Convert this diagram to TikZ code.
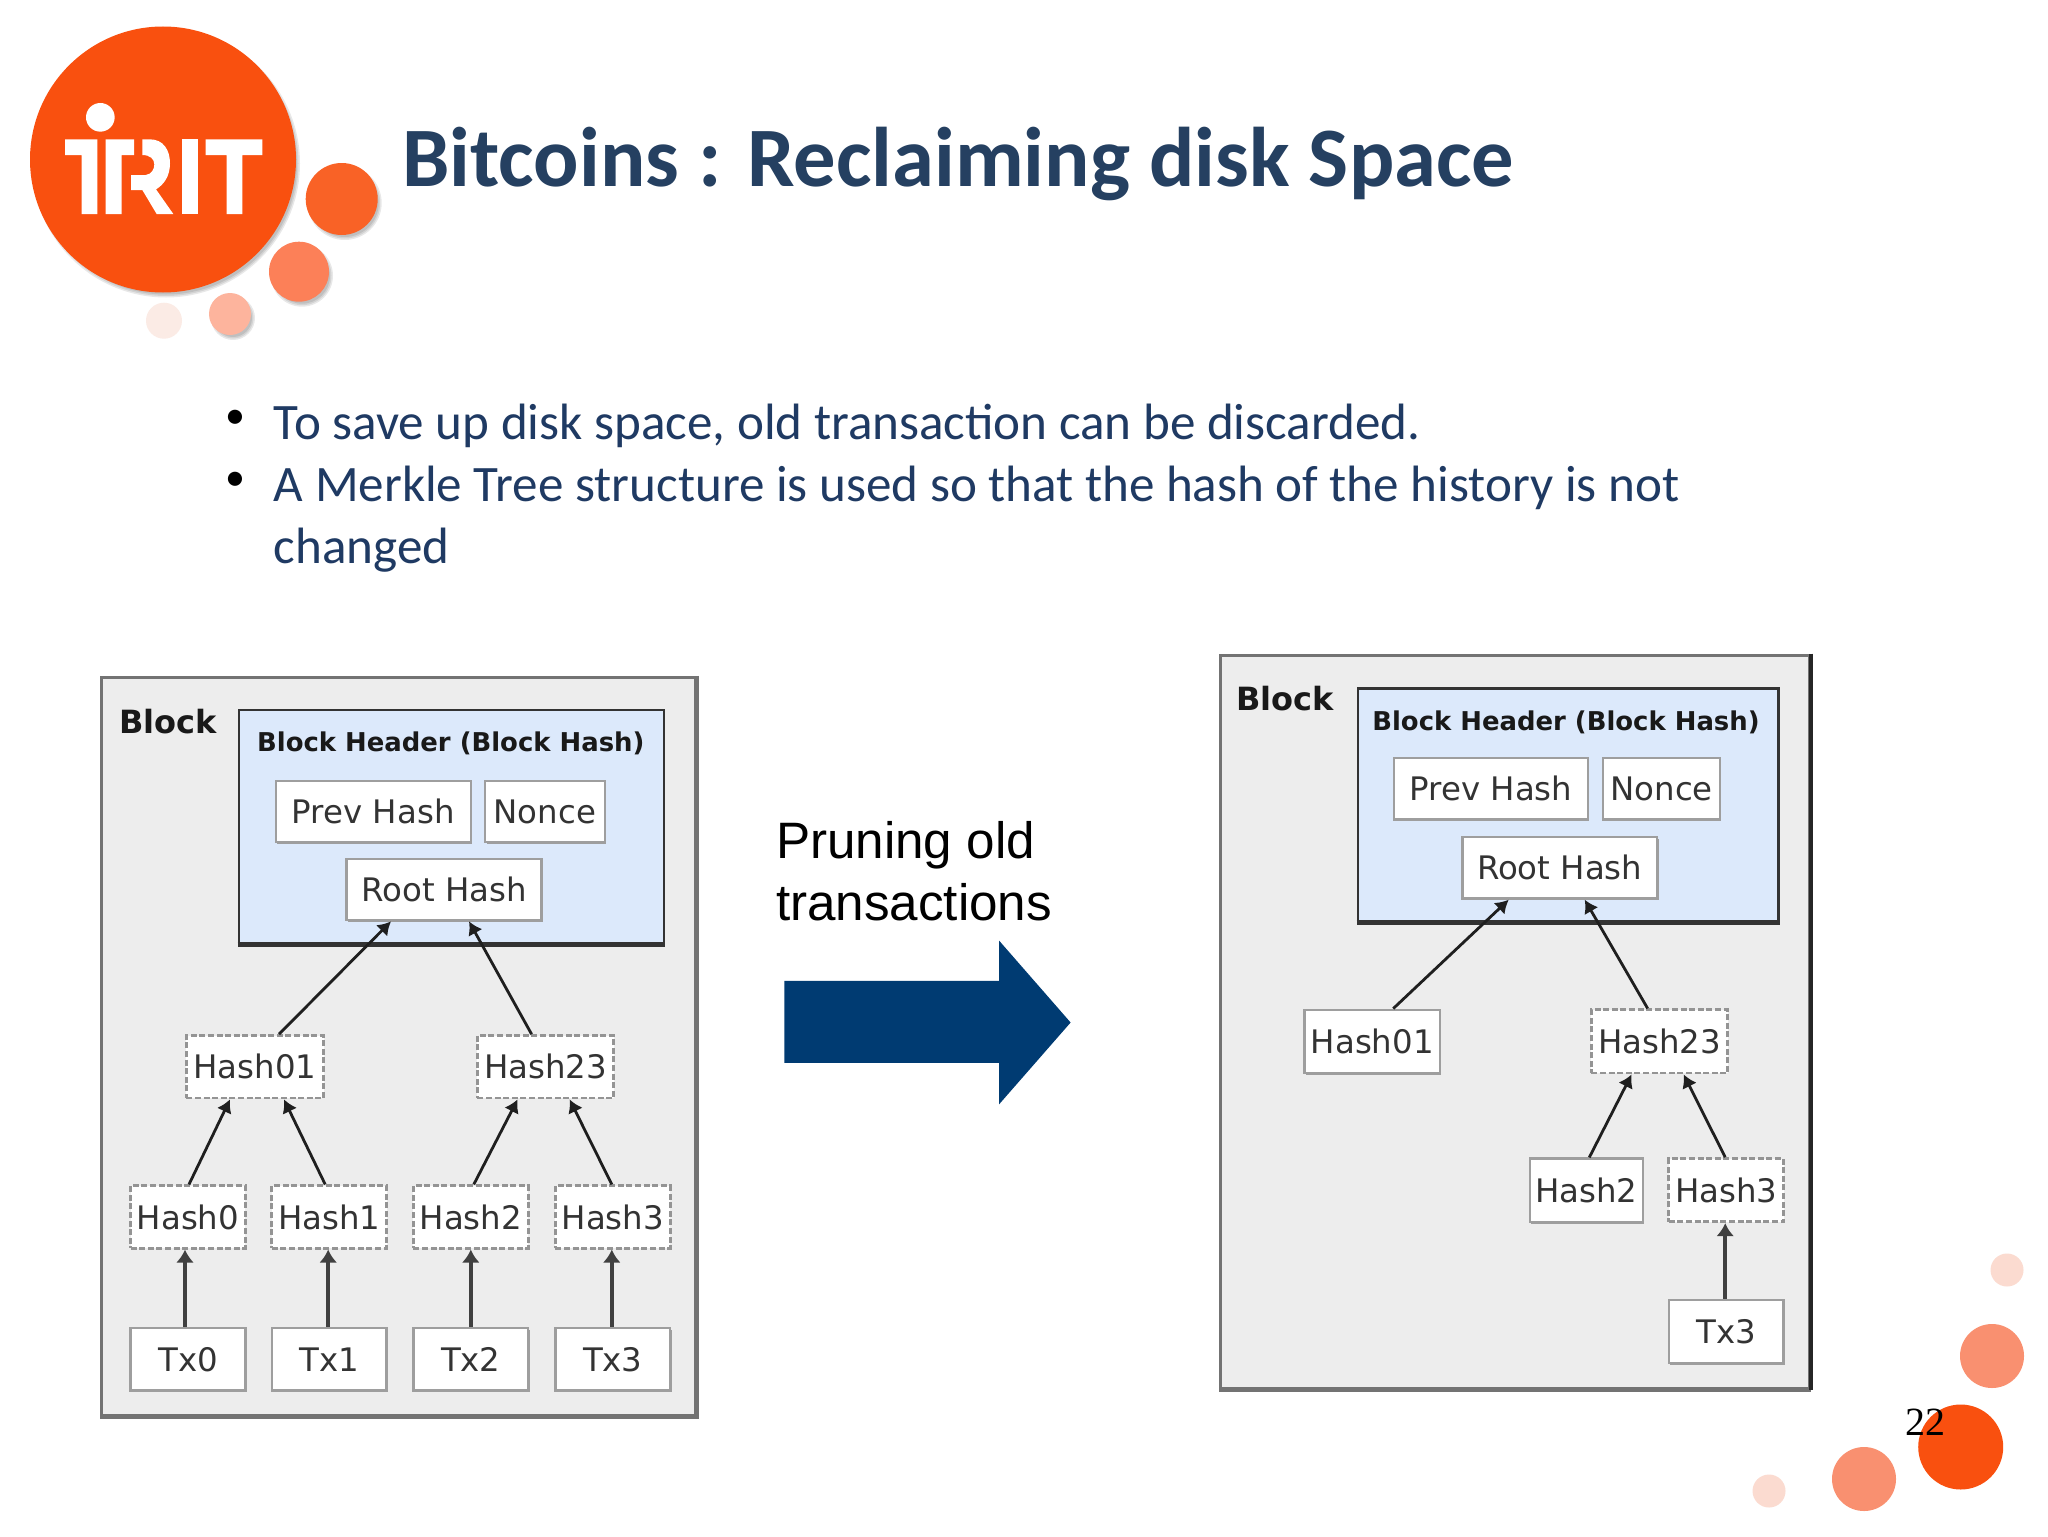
\documentclass[tikz,border=0pt]{standalone}
\usepackage{fontspec}
\setmainfont{Carlito}
\newfontfamily\dvs{DejaVu Sans}
\newfontfamily\lsans{Liberation Sans}
\newfontfamily\lserif{Liberation Serif}
\usetikzlibrary{arrows.meta,shadows}
\definecolor{titlecol}{HTML}{254061}
\definecolor{bodycol}{HTML}{1F3A63}
\definecolor{orangeA}{HTML}{F9500F}
\definecolor{orangeB}{HTML}{F96226}
\definecolor{orangeC}{HTML}{FC8058}
\definecolor{orangeD}{HTML}{FDB49D}
\definecolor{orangeE}{HTML}{FBEBE5}
\definecolor{orangeF}{HTML}{F99070}
\definecolor{orangeG}{HTML}{FBDBD0}
\definecolor{blockfill}{HTML}{EDEDED}
\definecolor{hdrfill}{HTML}{DCE9FB}
\definecolor{arrowblue}{HTML}{003B72}
\tikzset{
  blockbox/.style={draw=black!55,line width=1.5pt,fill=blockfill,inner sep=0pt},
  hdrbox/.style={draw=black!80,line width=1.3pt,fill=hdrfill,inner sep=0pt},
  basebox/.style={line width=1.2pt,fill=white,inner sep=0pt,font=\dvs\fontsize{16.2}{18}\selectfont,text=black!80},
  solidbox/.style={basebox,draw=black!38,copy shadow={shadow xshift=0.7pt,shadow yshift=-0.9pt,fill=black!38,draw=none}},
  dashbox/.style={basebox,draw=black!42,line width=1.4pt,dash pattern=on 3pt off 1.3pt},
  boldlabel/.style={inner sep=0pt,font=\dvs\bfseries\fontsize{12.95}{16}\selectfont,text=black!90},
  blocklabel/.style={inner sep=0pt,font=\dvs\bfseries\fontsize{16}{18}\selectfont,text=black!90},
  conn/.style={draw=black!88,line width=1.4pt,-{Latex[length=6.5pt,width=8pt]}},
  txconn/.style={draw=black!75,line width=1.9pt,-{Latex[length=6.5pt,width=9pt]}},
  bodytext/.style={anchor=base west,inner sep=0pt,text=bodycol,font=\fontsize{25.55}{31}\selectfont},
  bullet/.style={anchor=base,inner sep=0pt,text=black,font=\fontsize{20}{24}\selectfont},
  softshadow/.style={fill=black,opacity=0.09,draw=none},
}
\newcommand{\softdisc}[4]{%
  \foreach \sd in {0,1.5,3}{\fill[softshadow] (#1+3,#2+4) circle ({#3-\sd+1});}
  \fill[#4] (#1,#2) circle (#3);}
\begin{document}
\begin{tikzpicture}[x=0.5pt,y=-0.5pt]
\useasboundingbox[fill=white] (0,0) rectangle (2048,1536);

% logo
\softdisc{341.7}{199}{36}{orangeB}
\softdisc{299}{271.7}{30}{orangeC}
\softdisc{230}{314}{21}{orangeD}
\fill[orangeE] (164,320.7) circle (18);
\softdisc{163}{159.5}{133}{orangeA}
\begin{scope}[shift={(55,95)},x=0.16667pt,y=-0.16667pt]
 \fill[white] (136,67) circle (43);
 \fill[white] (30,133) -- (127,133) -- (127,357) -- (80,357) -- (80,180) -- (30,180) -- cycle;
 \fill[white] (152,133) -- (237,133) -- (237,180) -- (200,180) -- (200,357) -- (152,357) -- cycle;
 \fill[white] (262,133) -- (285,133) .. controls (325,133) and (345,165) .. (345,205) .. controls (345,245) and (325,270) .. (303,283) -- (355,357) -- (305,357) -- (262,285) -- (228,285) -- (228,240) -- (272,240) .. controls (290,238) and (298,222) .. (298,208) .. controls (298,192) and (285,180) .. (262,180) -- cycle;
 \fill[white] (380,133) rectangle (428,357);
 \fill[white] (452,133) -- (622,133) -- (622,180) -- (562,180) -- (562,357) -- (515,357) -- (515,180) -- (452,180) -- cycle;
\end{scope}

% corner discs
\fill[orangeG] (2007,1270) circle (16.5);
\fill[orangeF] (1992,1356) circle (32);
\fill[orangeA] (1960.7,1447) circle (42.5);
\fill[orangeF] (1864,1479) circle (32);
\fill[orangeG] (1769,1491) circle (16.5);
\node[anchor=base,inner sep=0pt,font=\lserif\fontsize{20}{24}\selectfont] (pagenum) at (1925,1435) {22};

% title and text
\node[anchor=base west,inner sep=0pt,text=titlecol,font=\bfseries\fontsize{42.3}{48}\selectfont] (title) at (402,186) {Bitcoins : Reclaiming disk Space};
\node[bullet] (b1) at (235,428) {•};
\node[bullet] (b2) at (235,490) {•};
\node[bodytext] (l1) at (273.5,439.6) {To save up disk space, old transaction can be discarded.};
\node[bodytext] (l2) at (273.5,501.4) {A Merkle Tree structure is used so that the hash of the history is not};
\node[bodytext] (l3) at (273.5,563) {changed};

% left block
\node[blockbox,minimum width=296.8pt,minimum height=369pt] (LB) at (398.6,1046.4) {};
\draw[black!55,line width=2.2pt] (LB.north east) -- (LB.south east) -- (LB.south west);
\node[hdrbox,minimum width=212.6pt,minimum height=116.4pt] (LH) at (451.5,826.4) {};
\draw[black!80,line width=2.4pt] (LH.south west) -- (LH.south east);
\node[blocklabel] (LBt) at (168,722) {Block};
\node[boldlabel] (LHt) at (450.8,743.6) {Block Header (Block Hash)};
\node[solidbox,minimum width=97.4pt,minimum height=30.7pt] (Lprev) at (373.3,811.5) {Prev Hash};
\node[solidbox,minimum width=59.8pt,minimum height=30.7pt] (Lnonce) at (544.9,811.5) {Nonce};
\node[solidbox,minimum width=97.4pt,minimum height=30.7pt] (Lroot) at (444,889.5) {Root Hash};
\node[dashbox,minimum width=68.7pt,minimum height=31.2pt] (Lh01) at (255,1066.8) {Hash01};
\node[dashbox,minimum width=68.2pt,minimum height=31.2pt] (Lh23) at (545.6,1066.8) {Hash23};
\node[dashbox,minimum width=57.4pt,minimum height=31.2pt] (Lh0) at (188,1217) {Hash0};
\node[dashbox,minimum width=57.4pt,minimum height=31.2pt] (Lh1) at (329.2,1217) {Hash1};
\node[dashbox,minimum width=57.4pt,minimum height=31.2pt] (Lh2) at (470.8,1217) {Hash2};
\node[dashbox,minimum width=57.4pt,minimum height=31.2pt] (Lh3) at (612.8,1217) {Hash3};
\node[solidbox,minimum width=57.4pt,minimum height=31.2pt] (Lt0) at (188,1359.2) {Tx0};
\node[solidbox,minimum width=57.4pt,minimum height=31.2pt] (Lt1) at (329.2,1359.2) {Tx1};
\node[solidbox,minimum width=57.4pt,minimum height=31.2pt] (Lt2) at (470.8,1359.2) {Tx2};
\node[solidbox,minimum width=57.4pt,minimum height=31.2pt] (Lt3) at (612.8,1359.2) {Tx3};
\draw[conn] ([xshift=12pt]Lh01.north) -- ([xshift=-26.5pt]Lroot.south);
\draw[conn] ([xshift=-7pt]Lh23.north) -- ([xshift=12.5pt]Lroot.south);
\draw[conn] ([xshift=0.5pt]Lh0.north) -- ([xshift=-12.5pt]Lh01.south);
\draw[conn] ([xshift=-2pt]Lh1.north) -- ([xshift=14.5pt]Lh01.south);
\draw[conn] ([xshift=1.5pt]Lh2.north) -- ([xshift=-14pt]Lh23.south);
\draw[conn] ([xshift=-0.5pt]Lh3.north) -- ([xshift=12pt]Lh23.south);
\draw[txconn] ([xshift=-1.5pt]Lt0.north) -- ([xshift=-1.5pt]Lh0.south);
\draw[txconn] ([xshift=-0.5pt]Lt1.north) -- ([xshift=-0.5pt]Lh1.south);
\draw[txconn] (Lt2.north) -- (Lh2.south);
\draw[txconn] ([xshift=-0.5pt]Lt3.north) -- ([xshift=-0.5pt]Lh3.south);

% middle
\node[anchor=base west,align=left,inner sep=0pt,font=\lsans\fontsize{25.6}{31}\selectfont] (prune) at (775.6,920) {Pruning old\\transactions};
\fill[arrowblue] (784.4,980.8) -- (999,980.8) -- (999,940.5) -- (1070.6,1022.5) -- (999,1104.4) -- (999,1062.8) -- (784.4,1062.8) -- cycle;

% right block
\node[blockbox,minimum width=294.5pt,minimum height=366.5pt] (RB) at (1515,1021.7) {};
\draw[black!55,line width=2.2pt] (RB.south west) -- (RB.south east);
\draw[black!85,line width=1.8pt] (RB.north east) -- (RB.south east);
\node[hdrbox,minimum width=210.2pt,minimum height=116.4pt] (RH) at (1568,804.6) {};
\draw[black!80,line width=2.4pt] (RH.south west) -- (RH.south east);
\node[blocklabel] (RBt) at (1285,699) {Block};
\node[boldlabel] (RHt) at (1566,722) {Block Header (Block Hash)};
\node[solidbox,minimum width=96.9pt,minimum height=30.7pt] (Rprev) at (1491,788.7) {Prev Hash};
\node[solidbox,minimum width=58.4pt,minimum height=30.7pt] (Rnonce) at (1661.6,788.7) {Nonce};
\node[solidbox,minimum width=97.4pt,minimum height=30.7pt] (Rroot) at (1559.7,867.8) {Root Hash};
\node[solidbox,minimum width=67.7pt,minimum height=31.6pt] (Rh01) at (1372.2,1041.4) {Hash01};
\node[dashbox,minimum width=68.2pt,minimum height=31.6pt] (Rh23) at (1659.6,1041.4) {Hash23};
\node[solidbox,minimum width=56.4pt,minimum height=31.6pt] (Rh2) at (1586.3,1190.2) {Hash2};
\node[dashbox,minimum width=57.4pt,minimum height=31.6pt] (Rh3) at (1726.2,1190.2) {Hash3};
\node[solidbox,minimum width=57.4pt,minimum height=31.6pt] (Rt3) at (1726.2,1331.4) {Tx3};
\draw[conn] ([xshift=10.5pt]Rh01.north) -- ([xshift=-25.5pt]Rroot.south);
\draw[conn] ([xshift=-6pt]Rh23.north) -- ([xshift=12.5pt]Rroot.south);
\draw[conn] ([xshift=1.5pt]Rh2.north) -- ([xshift=-14pt]Rh23.south);
\draw[conn] ([xshift=-0.5pt]Rh3.north) -- ([xshift=12pt]Rh23.south);
\draw[txconn] ([xshift=-0.5pt]Rt3.north) -- ([xshift=-0.5pt]Rh3.south);
\end{tikzpicture}
\end{document}
